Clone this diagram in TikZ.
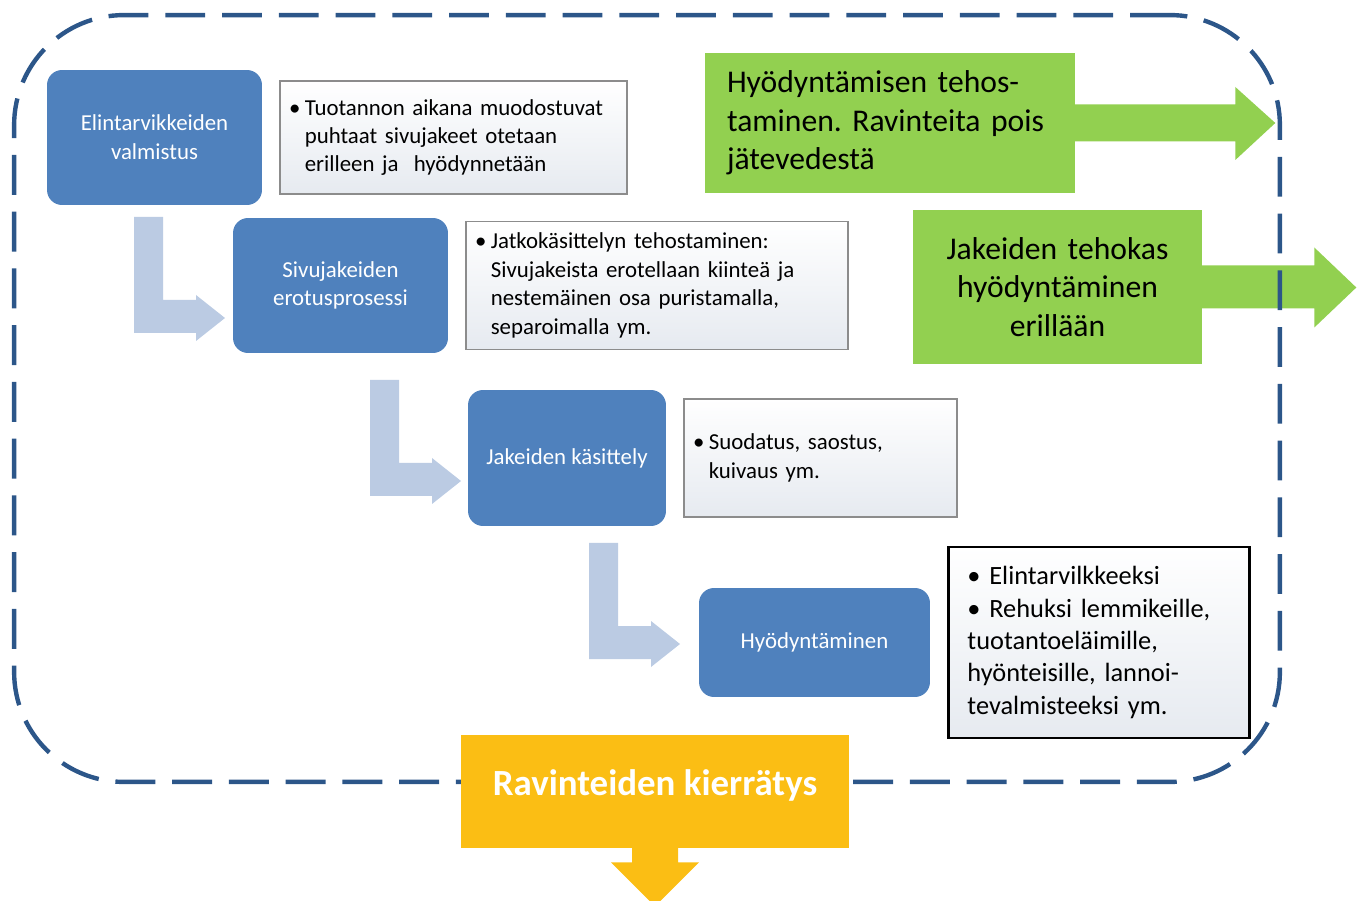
\documentclass[tikz,border=0pt]{standalone}
\usepackage{fontspec}
\setmainfont{Carlito}
\usetikzlibrary{positioning, calc}

\definecolor{stageblue}{RGB}{79,129,189}
\definecolor{flowblue}{RGB}{187,203,227}
\definecolor{gaingreen}{RGB}{146,208,80}
\definecolor{recyc}{RGB}{251,190,20}
\definecolor{framecol}{RGB}{44,86,137}
\definecolor{notefill}{RGB}{230,234,240}
\definecolor{noteline}{RGB}{140,140,140}

\newcommand{\itembul}{\textbullet\hspace{2.5pt}}
\newcommand{\itemgap}{\hphantom{\textbullet\hspace{2.5pt}}}

\tikzset{
  larrow/.pic={
    \fill[flowblue] (0,0) -- (29,0) -- (29,83) -- (62,83) -- (62,78) -- (91,101)
      -- (62,124) -- (62,116) -- (0,116) -- cycle;
  }
}

\begin{document}
\frenchspacing
\begin{tikzpicture}[
    x=0.02cm, y=-0.02cm,
    node distance=3.4mm,
    stage/.style={rectangle, rounded corners=3mm, fill=stageblue, text=white, align=center, font=\fontsize{13}{16.4}\selectfont, inner sep=2pt},
    note/.style={rectangle, draw=noteline, line width=0.8pt, top color=white, bottom color=notefill, align=left, font=\fontsize{13}{16.2}\selectfont, inner xsep=1.8mm, inner ysep=2pt},
    gain/.style={rectangle, fill=gaingreen, font=\fontsize{18}{22}\selectfont, inner xsep=4.4mm},
    loopframe/.style={draw=framecol, line width=2.5pt, dash pattern=on 22.7pt off 9.6pt, rounded corners=22mm},
    outcome/.style={rectangle, fill=recyc, text=white, font=\fontsize{21}{25}\selectfont\bfseries}
  ]
  \useasboundingbox (0,0) rectangle (1365,901);

  % green outcomes, behind the frame
  \node[gain, align=left, text width=6.52cm, minimum height=2.8cm] (tehos) at (890,123) {Hyödyntämisen tehos-\\taminen. Ravinteita pois\\jätevedestä};
  \fill[gaingreen] ($(tehos.east)+(-1,-18.5)$) -- ++(161,0) -- ++(0,-17.5) -- ++(40,36) -- ++(-40,37) -- ++(0,-18.5) -- ++(-161,0) -- cycle;
  \node[gain, align=center, text width=4.9cm, minimum height=3.08cm] (erill) at (1057.5,287) {Jakeiden tehokas\\hyödyntäminen\\erillään};
  \fill[gaingreen] ($(erill.east)+(-1,-21.5)$) -- ++(113,0) -- ++(0,-18) -- ++(42,40) -- ++(-42,40) -- ++(0,-19) -- ++(-113,0) -- cycle;

  % dashed loop
  \node[loopframe, minimum width=25.32cm, minimum height=15.34cm] (kehys) at (647,398.5) {};

  % process steps
  \node[stage, minimum width=4.3cm, minimum height=2.7cm] (valm) at (154.5,137.5) {Elintarvikkeiden\\valmistus};
  \node[stage, minimum width=4.3cm, minimum height=2.7cm] (erot) at (340.5,285.5) {Sivujakeiden\\erotusprosessi};
  \node[stage, minimum width=3.96cm, minimum height=2.72cm] (kasit) at (567,458) {Jakeiden käsittely};
  \node[stage, minimum width=4.62cm, minimum height=2.18cm] (hyod) at (814.5,642.5) {Hyödyntäminen};

  % notes
  \node[note, right=of valm, text width=6.58cm, minimum height=2.26cm] (note1) {\itembul Tuotannon aikana muodostuvat\\\itemgap puhtaat sivujakeet otetaan\\\itemgap erilleen ja \ hyödynnetään};
  \node[note, right=of erot, text width=7.28cm, minimum height=2.56cm] (note2) {\itembul Jatkokäsittelyn tehostaminen:\\\itemgap Sivujakeista erotellaan kiinteä ja\\\itemgap nestemäinen osa puristamalla,\\\itemgap separoimalla ym.};
  \node[note, right=of kasit, text width=5.1cm, minimum height=2.36cm] (note3) {\itembul Suodatus, saostus,\\\itemgap kuivaus ym.};
  \node[note, right=of hyod, draw=black, line width=1.3pt, inner xsep=3.8mm, text width=5.26cm, minimum height=3.82cm, font=\fontsize{15}{18.4}\selectfont] (note4) {\textbullet\ Elintarvilkkeeksi\\\textbullet\ Rehuksi lemmikeille,\\tuotantoeläimille,\\hyönteisille, lannoi-\\tevalmisteeksi ym.};

  % bent flow arrows
  \pic at (134,217) {larrow};
  \pic at (370,380) {larrow};
  \pic at (589,543) {larrow};

  % result
  \node[outcome, minimum width=7.76cm, minimum height=2.26cm, text height=0.6cm, text depth=0.46cm] (kierto) at (655,791.5) {Ravinteiden kierrätys};
  \fill[recyc] ($(kierto.south)+(-23,-1)$) -- ++(0,15) -- ++(-21,0) -- ++(44,44) -- ++(44,-44) -- ++(-21,0) -- ++(0,-15) -- cycle;
\end{tikzpicture}
\end{document}
